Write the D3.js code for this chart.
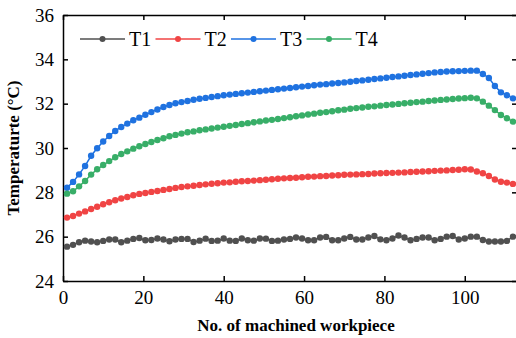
<!DOCTYPE html>
<meta charset="utf-8">
<style>

body {
  margin: 0;
  background: #fff;
}

svg {
  display: block;
  font-family: "Liberation Serif", "Times New Roman", serif;
}

.axis path,
.axis line {
  stroke: #000;
  stroke-width: 1.5;
}

.axis text {
  font-family: "Liberation Serif", "Times New Roman", serif;
  font-size: 19px;
  fill: #000;
}

.title {
  font-weight: bold;
  font-size: 17px;
}

</style>
<svg id="chart" width="516" height="338"></svg>
<script src="https://d3js.org/d3.v7.min.js"></script>
<script>

// Temperatures, one value per marker (75 markers).
var t1 = [25.55, 25.63, 25.75, 25.82, 25.78, 25.75, 25.81, 25.87, 25.87, 25.75,
          25.82, 25.90, 25.94, 25.84, 25.85, 25.92, 25.87, 25.79, 25.87, 25.90,
          25.90, 25.76, 25.82, 25.91, 25.81, 25.82, 25.92, 25.82, 25.81, 25.92,
          25.84, 25.82, 25.92, 25.91, 25.81, 25.82, 25.87,
          25.90, 25.96, 25.92, 25.84, 25.84, 25.96, 25.99, 25.84, 25.84, 25.92,
          25.99, 25.87, 25.87, 25.96, 26.03, 25.88, 25.84, 25.92, 26.05, 25.96,
          25.84, 25.90, 25.96, 25.96, 25.84, 25.90, 26.00, 26.03, 25.87, 25.92,
          26.00, 26.00, 25.85, 25.78, 25.78, 25.78, 25.81, 26.00];

var t2 = [26.86, 26.93, 27.04, 27.14, 27.25, 27.35, 27.46, 27.55, 27.64, 27.72,
          27.79, 27.87, 27.93, 27.97, 28.02, 28.06, 28.11, 28.15, 28.20, 28.24,
          28.27, 28.30, 28.33, 28.36, 28.39, 28.41, 28.44, 28.45, 28.48, 28.50,
          28.51, 28.53,
          28.55, 28.57, 28.59, 28.61, 28.63, 28.65, 28.66, 28.68, 28.70, 28.71,
          28.73, 28.74, 28.76, 28.77, 28.79, 28.80,
          28.81, 28.82, 28.83, 28.85, 28.86, 28.87, 28.88, 28.89, 28.90, 28.92,
          28.93, 28.94, 28.95, 28.97, 28.98, 28.99, 29.01, 29.02,
          29.04, 29.03, 28.94, 28.86, 28.74, 28.58, 28.48, 28.44, 28.38];

var t3 = [28.21, 28.47, 28.81, 29.19, 29.65, 29.99, 30.29, 30.54, 30.77, 30.95,
          31.10, 31.25, 31.37, 31.50, 31.62, 31.74, 31.85, 31.94, 32.02, 32.07,
          32.12, 32.18, 32.22, 32.26,
          32.30, 32.34, 32.38, 32.41, 32.44, 32.47, 32.50, 32.53, 32.56, 32.59,
          32.62, 32.65, 32.68, 32.71, 32.74, 32.77, 32.80, 32.83, 32.86, 32.88,
          32.91, 32.93, 32.96, 32.99,
          33.02, 33.05, 33.08, 33.11, 33.14, 33.17, 33.20, 33.23, 33.26, 33.29,
          33.32, 33.35, 33.38, 33.41, 33.43, 33.45, 33.46, 33.47, 33.48, 33.49,
          33.49,
          33.34, 33.16, 32.80, 32.51, 32.38, 32.24];

var t4 = [27.94, 28.05, 28.27, 28.51, 28.80, 29.04, 29.23, 29.41, 29.58, 29.73,
          29.85, 29.97, 30.08, 30.18, 30.27, 30.36, 30.44, 30.53, 30.59, 30.65,
          30.71, 30.75, 30.80, 30.84,
          30.88, 30.92, 30.96, 31.00, 31.04, 31.08, 31.12, 31.16, 31.20, 31.24,
          31.27, 31.31, 31.35, 31.39, 31.43, 31.47, 31.51, 31.55, 31.59, 31.62,
          31.66, 31.70, 31.73, 31.77,
          31.80, 31.83, 31.86, 31.88, 31.91, 31.94, 31.96, 31.99, 32.02, 32.04,
          32.07, 32.09, 32.12, 32.14, 32.17, 32.19, 32.21, 32.23, 32.25,
          32.27, 32.24, 32.09, 31.91, 31.71, 31.49, 31.34, 31.19];

// Workpiece number of each marker (markers sit every 1.5 workpieces).
var workpiece = t1.map(function(d, i) { return 1 + i * 1.5; });

var names = ["T1", "T2", "T3", "T4"],
    colors = ["#505050", "#f04444", "#1f72e0", "#38ae68"],
    xTicks = [0, 20, 40, 60, 80, 100],
    yTicks = [24, 26, 28, 30, 32, 34, 36];

var series = [t1, t2, t3, t4].map(function(values, k) {
  return {
    name: names[k],
    color: colors[k],
    points: values.map(function(v, i) { return {x: workpiece[i], y: v}; })
  };
});

var svg = d3.select("svg"),
    margin = {top: 15, right: -1, bottom: 57, left: 63},
    width = +svg.attr("width") - margin.left - margin.right,
    height = +svg.attr("height") - margin.top - margin.bottom,
    g = svg.append("g").attr("transform", "translate(" + margin.left + "," + margin.top + ")");

var x = d3.scaleLinear()
    .domain([0, 113])
    .range([0, width]);

var y = d3.scaleLinear()
    .domain([24, 36])
    .range([height, 0]);

var line = d3.line()
    .x(function(d) { return x(d.x); })
    .y(function(d) { return y(d.y); });

// axes on all four sides, ticks pointing inward
g.append("g")
    .attr("class", "axis")
    .attr("transform", "translate(0," + height + ")")
    .call(d3.axisBottom(x).tickValues(xTicks).tickSizeInner(-5).tickSizeOuter(0).tickPadding(10));

g.append("g")
    .attr("class", "axis")
    .call(d3.axisTop(x).tickValues(xTicks).tickSizeInner(-5).tickSizeOuter(0).tickFormat(""));

g.append("g")
    .attr("class", "axis")
    .call(d3.axisLeft(y).tickValues(yTicks).tickSizeInner(-5).tickSizeOuter(0).tickPadding(9));

g.append("g")
    .attr("class", "axis")
    .attr("transform", "translate(" + width + ",0)")
    .call(d3.axisRight(y).tickValues(yTicks).tickSizeInner(-5).tickSizeOuter(0).tickFormat(""));

var s = g.selectAll(".series")
  .data(series)
  .enter().append("g")
    .attr("class", "series");

s.append("path")
    .attr("fill", "none")
    .attr("stroke", function(d) { return d.color; })
    .attr("stroke-width", 1.5)
    .attr("d", function(d) { return line(d.points); });

s.selectAll("circle")
  .data(function(d) { return d.points.map(function(p) { return {p: p, color: d.color}; }); })
  .enter().append("circle")
    .attr("cx", function(d) { return x(d.p.x); })
    .attr("cy", function(d) { return y(d.p.y); })
    .attr("r", 3.2)
    .attr("fill", function(d) { return d.color; });

// legend
var legend = svg.append("g")
    .attr("transform", "translate(80,39)");

var item = legend.selectAll("g")
  .data(series)
  .enter().append("g")
    .attr("transform", function(d, i) { return "translate(" + i * 75.5 + ",0)"; });

item.append("line")
    .attr("x1", 0)
    .attr("x2", 45)
    .attr("stroke", function(d) { return d.color; })
    .attr("stroke-width", 1.5);

item.append("circle")
    .attr("cx", 22.5)
    .attr("r", 3)
    .attr("fill", function(d) { return d.color; });

item.append("text")
    .attr("x", 49)
    .attr("y", 7)
    .style("font-size", "20px")
    .text(function(d) { return d.name; });

// axis titles
svg.append("text")
    .attr("class", "title")
    .attr("x", margin.left + x(58))
    .attr("y", 331)
    .attr("text-anchor", "middle")
    .text("No. of machined workpiece");

svg.append("text")
    .attr("class", "title")
    .attr("transform", "translate(19," + (margin.top + height / 2) + ") rotate(-90)")
    .attr("text-anchor", "middle")
    .text("Temperaturte (°C)");

</script>
